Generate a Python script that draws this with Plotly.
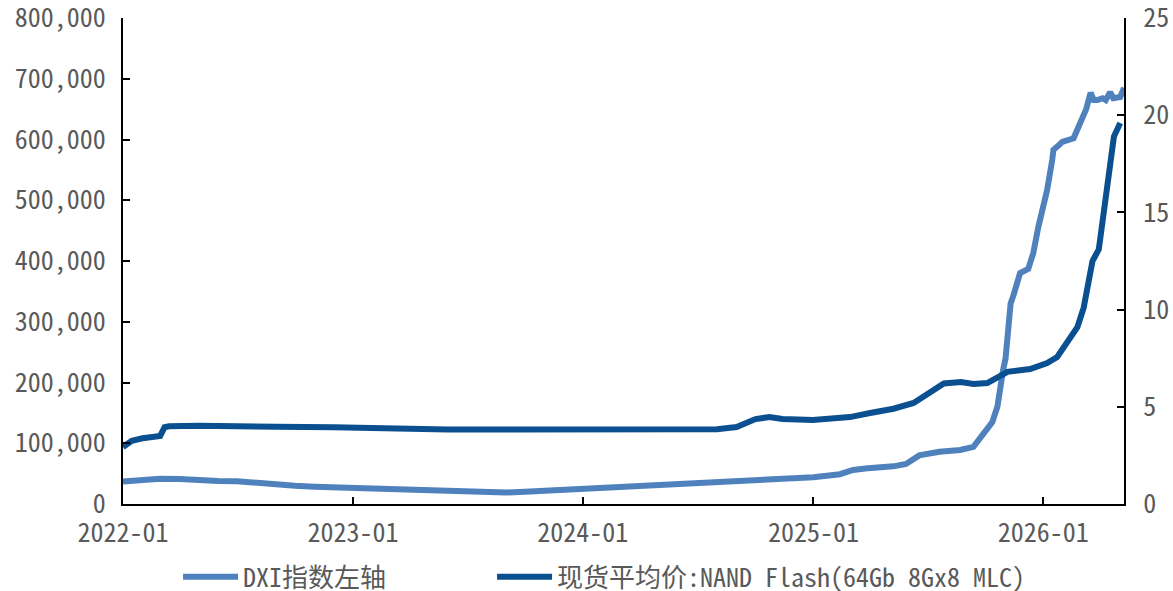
import plotly.graph_objects as go

# DXI index (left axis)
dxi_dates = [
    "2022-01-01", "2022-02-01", "2022-03-01", "2022-04-01", "2022-05-01", "2022-06-01",
    "2022-07-01", "2022-08-01", "2022-09-01", "2022-10-01", "2022-11-01", "2022-12-01",
    "2023-01-01", "2023-02-01", "2023-03-01", "2023-04-01", "2023-05-01", "2023-06-01",
    "2023-07-01", "2023-08-01", "2023-09-01", "2023-10-01", "2023-11-01", "2023-12-01",
    "2024-01-01", "2024-02-01", "2024-03-01", "2024-04-01", "2024-05-01", "2024-06-01",
    "2024-07-01", "2024-08-01", "2024-09-01", "2024-10-01", "2024-11-01", "2024-12-01",
    "2025-01-01", "2025-02-12", "2025-03-05", "2025-03-28", "2025-05-08", "2025-05-28",
    "2025-06-08", "2025-06-18", "2025-07-20", "2025-08-22", "2025-09-12", "2025-09-28",
    "2025-10-04", "2025-10-12", "2025-10-20", "2025-10-25", "2025-10-29", "2025-11-02",
    "2025-11-05", "2025-11-10", "2025-11-15", "2025-11-25", "2025-12-08", "2025-12-16",
    "2025-12-24", "2026-01-07", "2026-01-15", "2026-01-17", "2026-01-25", "2026-01-31",
    "2026-02-18", "2026-03-01", "2026-03-10", "2026-03-17", "2026-03-22", "2026-03-28",
    "2026-04-05", "2026-04-10", "2026-04-17", "2026-04-22", "2026-05-03", "2026-05-09",
]
dxi_values = [
    37000, 39000, 41500, 41000, 39000, 38000,
    37500, 34500, 31000, 30000, 28500, 27500,
    27000, 26000, 24500, 23000, 22000, 21500,
    20500, 19500, 19000, 20000, 21500, 23000,
    25000, 27000, 28500, 30000, 31500, 33000,
    35000, 36500, 37500, 39000, 39000, 41500,
    44000, 49000, 56000, 59000, 62000, 66000,
    72000, 80000, 86000, 89000, 94000, 117000,
    122000, 135000, 160000, 199000, 220000, 240000,
    285000, 330000, 345000, 380000, 387000, 413000,
    456000, 517000, 566000, 583000, 590000, 596000,
    602000, 627000, 650000, 677000, 665000, 665000,
    668000, 665000, 678000, 668000, 670000, 685000,
]

# NAND Flash spot average price (right axis)
nand_dates = [
    "2022-01-01", "2022-01-15", "2022-02-01", "2022-02-20", "2022-03-01", "2022-03-08",
    "2022-03-15", "2022-05-01", "2022-07-01", "2022-09-01", "2022-12-01", "2023-03-01",
    "2023-06-01", "2023-09-01", "2023-12-01", "2024-03-01", "2024-06-01", "2024-08-01",
    "2024-09-01", "2024-10-01", "2024-10-23", "2024-11-13", "2024-12-31", "2025-02-28",
    "2025-04-01", "2025-05-08", "2025-06-09", "2025-07-06", "2025-07-27", "2025-08-23",
    "2025-09-12", "2025-10-04", "2025-11-05", "2025-12-11", "2026-01-07", "2026-01-23",
    "2026-02-08", "2026-02-24", "2026-03-06", "2026-03-20", "2026-03-30", "2026-04-10",
    "2026-04-23", "2026-05-03",
]
nand_values = [
    2.93, 3.25, 3.38, 3.42, 3.50, 3.95,
    4.00, 4.03, 4.03, 3.97, 3.95, 3.88,
    3.83, 3.83, 3.84, 3.84, 3.84, 3.85,
    3.96, 4.37, 4.47, 4.37, 4.32, 4.47,
    4.68, 4.90, 5.20, 5.76, 6.20, 6.28,
    6.17, 6.22, 6.80, 6.94, 7.25, 7.56,
    8.28, 9.10, 10.1, 12.5, 13.1, 16.0,
    18.9, 19.6,
]

left_ticks = [0, 100000, 200000, 300000, 400000, 500000, 600000, 700000, 800000]
left_ticktext = ["0", "100,000", "200,000", "300,000", "400,000",
                 "500,000", "600,000", "700,000", "800,000"]
right_ticks = [0, 5, 10, 15, 20, 25]
x_ticks = ["2022-01-01", "2023-01-01", "2024-01-01", "2025-01-01", "2026-01-01"]
x_ticktext = ["2022-01", "2023-01", "2024-01", "2025-01", "2026-01"]

FONT = "Noto Sans Mono CJK SC, DejaVu Sans Mono, Noto Sans CJK SC, monospace"
GREY = "#595959"

fig = go.Figure()
fig.add_trace(go.Scatter(
    x=dxi_dates, y=dxi_values, name="DXI指数左轴", mode="lines",
    line=dict(color="#4f81bd", width=6), yaxis="y", legendwidth=244,
))
fig.add_trace(go.Scatter(
    x=nand_dates, y=nand_values, name="现货平均价:NAND Flash(64Gb 8Gx8 MLC)",
    mode="lines", line=dict(color="#0a4f8f", width=6), yaxis="y2", legendwidth=480,
))

axis_common = dict(
    ticks="inside", ticklen=7, tickwidth=2, tickcolor="black",
    showline=True, linecolor="black", linewidth=2,
    showgrid=False, zeroline=False, automargin=False, ticklabeloverflow="allow",
)

fig.update_layout(
    width=1173, height=591,
    margin=dict(l=123, r=49, t=18, b=87, autoexpand=False),
    paper_bgcolor="white", plot_bgcolor="white",
    font=dict(family=FONT, size=26, color=GREY),
    showlegend=True,
    legend=dict(
        orientation="h", x=0.055, xanchor="left", y=-0.150, yanchor="middle",
        itemwidth=55, font=dict(family=FONT, size=26, color=GREY),
        bgcolor="rgba(0,0,0,0)", traceorder="normal",
    ),
    xaxis=dict(
        type="date", range=["2022-01-01", "2026-05-09"],
        tickvals=x_ticks, ticktext=x_ticktext, ticklabelstandoff=5, **axis_common,
    ),
    yaxis=dict(
        range=[0, 800000], tickvals=left_ticks, ticktext=left_ticktext,
        ticklabelstandoff=10, **axis_common,
    ),
    yaxis2=dict(
        range=[0, 25], tickvals=right_ticks, overlaying="y", side="right",
        ticklabelstandoff=12, **axis_common,
    ),
)

fig.write_html("out.html")
